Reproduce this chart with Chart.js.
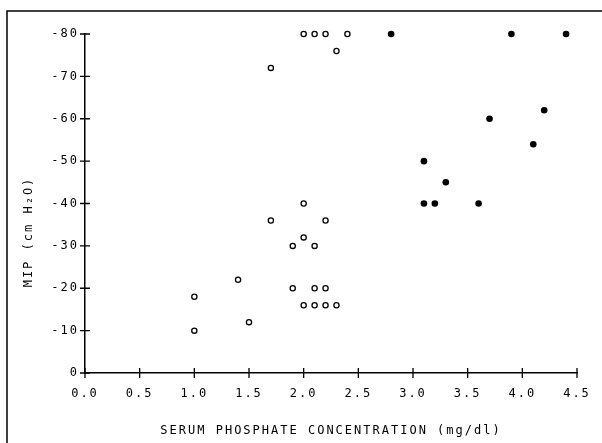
<!DOCTYPE html>
<html>
<head>
<meta charset="utf-8">
<script src="https://cdn.jsdelivr.net/npm/chart.js@4"></script>
<style>
  html, body { margin: 0; padding: 0; background: #fff; }
  #wrap { width: 602px; height: 443px; }
</style>
</head>
<body>
<div id="wrap"><canvas id="mip" width="602" height="443"></canvas></div>
<script>
// serum phosphate (mg/dl) vs MIP (cm H2O)
const lowX = [1.0, 1.0, 1.4, 1.5, 1.7, 1.7, 1.9, 1.9, 2.0, 2.1, 2.2, 2.4, 2.3, 2.0, 2.0, 2.1, 2.2, 2.0, 2.1, 2.2, 2.3, 2.1, 2.2];
const lowY = [-10, -18, -22, -12, -36, -72, -30, -20, -80, -80, -80, -80, -76, -40, -32, -30, -36, -16, -16, -16, -16, -20, -20];
const highX = [2.8, 3.9, 4.4, 4.2, 3.7, 4.1, 3.1, 3.3, 3.1, 3.2, 3.6];
const highY = [-80, -80, -80, -62, -60, -54, -50, -45, -40, -40, -40];
const xTicks = [0, 0.5, 1, 1.5, 2, 2.5, 3, 3.5, 4, 4.5];
const yTicks = [0, -10, -20, -30, -40, -50, -60, -70, -80];

const FONT = "'DejaVu Sans Mono', monospace";
Chart.defaults.font.family = FONT;
Chart.defaults.font.size = 12;
Chart.defaults.color = '#000';

// frame, crossing tick marks and the y title
const plotterBits = {
    id: 'plotterBits',
    beforeDraw(chart) {
        chart.ctx.letterSpacing = '2px';
    },
    afterDraw(chart) {
        const ctx = chart.ctx;
        const x = chart.scales.x, y = chart.scales.y;
        ctx.save();
        ctx.strokeStyle = '#000';
        ctx.lineWidth = 1.5;
        // page frame (top + left)
        ctx.beginPath();
        ctx.moveTo(7, 443);
        ctx.lineTo(7, 11);
        ctx.lineTo(602, 11);
        ctx.stroke();

        ctx.lineWidth = 1.3;
        ctx.beginPath();
        xTicks.forEach(v => {
            const px = x.getPixelForValue(v);
            ctx.moveTo(px, y.bottom - 5);
            ctx.lineTo(px, y.bottom + 5);
        });
        yTicks.forEach(v => {
            const py = y.getPixelForValue(v);
            ctx.moveTo(x.left - 5, py);
            ctx.lineTo(x.left + 5, py);
        });
        ctx.stroke();

        // y title
        ctx.letterSpacing = '2px';
        ctx.font = '12px ' + FONT;
        ctx.fillStyle = '#000';
        ctx.translate(29, 232);
        ctx.rotate(-Math.PI / 2);
        ctx.textAlign = 'center';
        ctx.textBaseline = 'middle';
        ctx.fillText('MIP (cm H\u2082O)', 0, 0);
        ctx.restore();
    }
};

new Chart(document.getElementById('mip'), {
    type: 'scatter',
    data: {
        datasets: [{
            label: 'low',
            data: lowX.map((v, i) => ({ x: v, y: lowY[i] })),
            clip: false,
            pointStyle: 'circle',
            pointRadius: 2.6,
            pointBorderWidth: 1.3,
            pointBorderColor: '#000',
            pointBackgroundColor: '#fff'
        }, {
            label: 'high',
            data: highX.map((v, i) => ({ x: v, y: highY[i] })),
            clip: false,
            pointStyle: 'circle',
            pointRadius: 3.3,
            pointBorderWidth: 0,
            pointBorderColor: '#000',
            pointBackgroundColor: '#000'
        }]
    },
    options: {
        responsive: false,
        animation: false,
        layout: { padding: { left: 0, top: 34, right: 25, bottom: 0 } },
        plugins: { legend: { display: false }, tooltip: { enabled: false } },
        scales: {
            x: {
                type: 'linear',
                min: 0, max: 4.5,
                afterFit(scale) { scale.height = 70; },
                afterBuildTicks(scale) { scale.ticks = xTicks.map(v => ({ value: v })); },
                grid: { display: true, drawOnChartArea: false, drawTicks: false },
                border: { display: true, color: '#000', width: 1.5 },
                ticks: {
                    padding: 14,
                    maxRotation: 0,
                    callback: v => v.toFixed(1)
                },
                title: {
                    display: true,
                    text: 'SERUM PHOSPHATE CONCENTRATION (mg/dl)',
                    padding: { top: 0, bottom: 5 }
                }
            },
            y: {
                type: 'linear',
                min: -80, max: 0,
                reverse: true,
                afterFit(scale) { scale.width = 85; },
                afterBuildTicks(scale) { scale.ticks = yTicks.map(v => ({ value: v })); },
                grid: { display: true, drawOnChartArea: false, drawTicks: false },
                border: { display: true, color: '#000', width: 1.5 },
                ticks: {
                    padding: 6,
                    callback: v => String(v)
                }
            }
        }
    },
    plugins: [plotterBits]
});
</script>
</body>
</html>
